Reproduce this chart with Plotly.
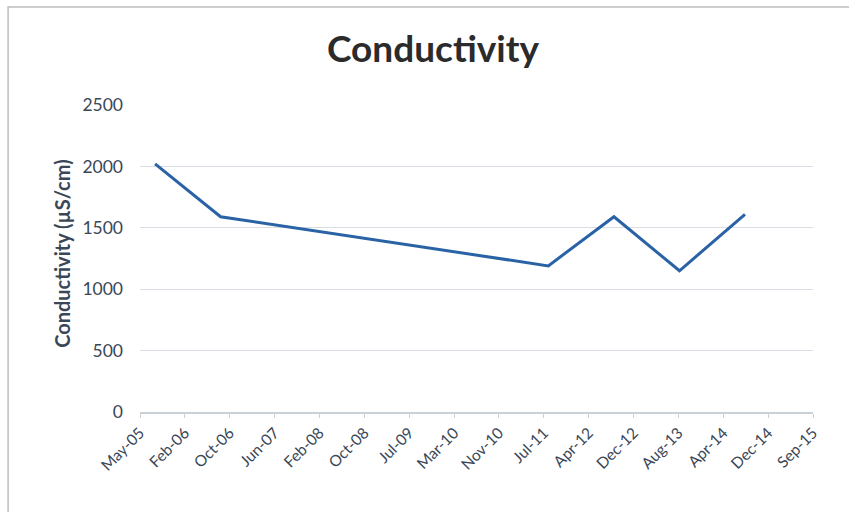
import pandas as pd
import plotly.graph_objects as go

# Sampling dates and measured conductivity (µS/cm)
sample_dates = ["2005-08-20", "2006-08-20", "2011-08-20", "2012-08-20", "2013-08-20", "2014-08-20"]
conductivity = [2020, 1590, 1190, 1590, 1150, 1610]

# Date axis: 250-day major unit starting late May 2005
axis_start = "2005-05-28"
tick_step_days = 250
tick_labels = ["May-05", "Feb-06", "Oct-06", "Jun-07", "Feb-08", "Oct-08", "Jul-09", "Mar-10",
               "Nov-10", "Jul-11", "Apr-12", "Dec-12", "Aug-13", "Apr-14", "Dec-14", "Sep-15"]
y_ticks = [0, 500, 1000, 1500, 2000, 2500]

tick_dates = pd.date_range(axis_start, periods=len(tick_labels), freq=f"{tick_step_days}D")

fig = go.Figure()
fig.add_trace(go.Scatter(
    x=pd.to_datetime(sample_dates),
    y=conductivity,
    mode="lines",
    line=dict(color="#2a62a6", width=3),
    showlegend=False,
))

font_family = "Lato, Carlito, sans-serif"
axis_text_color = "#3a4757"

fig.update_layout(
    width=849, height=512,
    margin=dict(l=140, r=36, t=105, b=100),
    paper_bgcolor="white",
    plot_bgcolor="white",
    title=dict(
        text="<b>Conductivity</b>",
        font=dict(family=font_family, size=37, color="#2b2b2b"),
        x=0.51, xanchor="center", xref="container",
        y=1 - 49 / 512, yanchor="middle", yref="container",
    ),
    xaxis=dict(
        type="date",
        range=[tick_dates[0], tick_dates[-1]],
        tickvals=tick_dates,
        ticktext=tick_labels,
        tickangle=-45,
        tickfont=dict(family=font_family, size=15.5, color=axis_text_color),
        showgrid=False,
        showline=True, linecolor="#c9d0d6", linewidth=1.5,
        ticks="outside", ticklen=4, tickcolor="#c9d0d6",
        zeroline=False,
    ),
    yaxis=dict(
        range=[0, 2500],
        tickvals=y_ticks,
        tickfont=dict(family=font_family, size=17.5, color=axis_text_color),
        showgrid=True, gridcolor="#d8dee3", gridwidth=1.2,
        zeroline=False,
        ticks="",
        ticklabelstandoff=16,
    ),
    annotations=[dict(
        text="<b>Conductivity (µS/cm)</b>",
        textangle=-90,
        x=-0.116, y=0.515, xref="paper", yref="paper",
        xanchor="center", yanchor="middle",
        showarrow=False,
        font=dict(family=font_family, size=20, color=axis_text_color),
    )],
    shapes=[dict(
        type="rect", xref="paper", yref="paper",
        x0=-0.196, y0=-0.4, x1=1.2, y1=1.319,
        line=dict(color="#bdbdbd", width=1.5),
        fillcolor="rgba(0,0,0,0)",
        layer="below",
    )],
)

fig.write_html("out.html")
